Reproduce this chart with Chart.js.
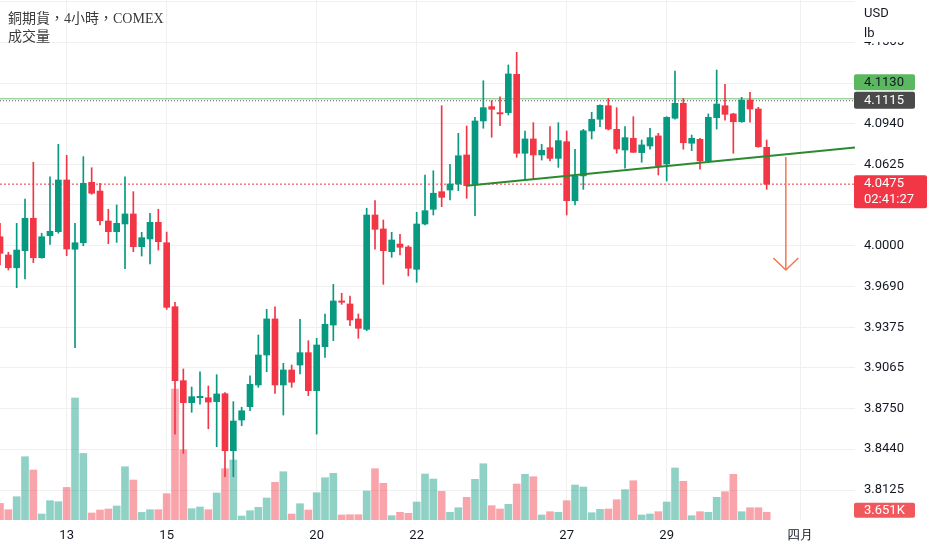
<!DOCTYPE html>
<html>
<head>
<meta charset="utf-8">
<script src="https://cdn.jsdelivr.net/npm/chart.js@4.4.1/dist/chart.umd.min.js"></script>
<style>
  html, body { margin: 0; padding: 0; background: #fff; }
  #wrap { position: relative; width: 932px; height: 550px; }
  #legend {
    position: absolute; left: 8px; top: 10px;
    font: 14px "Liberation Serif", "Noto Sans CJK TC", serif;
    line-height: 18px; color: #3a3a3a; pointer-events: none;
  }
</style>
</head>
<body>
<div id="wrap">
  <canvas id="chart"></canvas>
  <div id="legend"><div>銅期貨，4小時，COMEX</div><div>成交量</div></div>
</div>
<script>
// 4-hour candles (USD/lb)
const opens = [
  4.0071, 3.9931, 3.9833, 3.9964, 4.0213, 3.9910, 4.0079, 4.0110, 4.0507, 3.9975,
  4.0025, 4.0489, 4.0422, 4.0192, 4.0110, 4.0169, 4.0246, 3.9995, 4.0054, 4.0182,
  4.0025, 3.9534, 3.8966, 3.8797, 3.8835, 3.8835, 3.8805, 3.8866, 3.8428, 3.8664,
  3.8766, 3.8933, 3.9163, 3.9440, 3.8933, 3.9048, 3.9086, 3.9181, 3.8889, 3.9227,
  3.9393, 3.9578, 3.9555, 3.9440, 3.9360, 4.0238, 4.0131, 3.9956, 4.0015, 3.9992,
  3.9821, 4.0169, 4.0282, 4.0417, 4.0430, 4.0476, 4.0699, 4.0476, 4.0960, 4.1070,
  4.1024, 4.1024, 4.1318, 4.0712, 4.0822, 4.0699, 4.0755, 4.0673, 4.0801, 4.0348,
  4.0538, 4.0883, 4.0973, 4.1077, 4.0896, 4.0737, 4.0827, 4.0717, 4.0768, 4.0845,
  4.0630, 4.0981, 4.1096, 4.0789, 4.0819, 4.0653, 4.0985, 4.1077, 4.1014, 4.0954,
  4.1121, 4.1052, 4.0758
];
const highs = [
  4.0174, 3.9952, 4.0174, 4.0361, 4.0643, 4.0098, 4.0532, 4.0781, 4.0696, 4.0174,
  4.0686, 4.0601, 4.0481, 4.0282, 4.0315, 4.0532, 4.0417, 4.0105, 4.0251, 4.0282,
  4.0107, 3.9568, 3.9056, 3.8917, 3.9033, 3.8925, 3.9012, 3.8874, 3.8805, 3.8762,
  3.9004, 3.9317, 3.9514, 3.9532, 3.9099, 3.9086, 3.9437, 3.9273, 3.9291, 3.9478,
  3.9706, 3.9637, 3.9616, 3.9478, 4.0290, 4.0348, 4.0200, 4.0105, 4.0090, 4.0002,
  4.0259, 4.0545, 4.0578, 4.1077, 4.0627, 4.0865, 4.0921, 4.0988, 4.1269, 4.1116,
  4.1146, 4.1390, 4.1487, 4.0883, 4.0947, 4.0781, 4.0916, 4.0947, 4.0883, 4.0743,
  4.0896, 4.1027, 4.1083, 4.1134, 4.1062, 4.0916, 4.0993, 4.0814, 4.0904, 4.0865,
  4.0993, 4.1344, 4.1134, 4.0852, 4.0827, 4.1014, 4.1351, 4.1242, 4.1019, 4.1142,
  4.1180, 4.1065, 4.0814
];
const lows = [
  3.9854, 3.9816, 3.9680, 3.9747, 3.9872, 3.9906, 4.0013, 4.0098, 3.9926, 3.9219,
  4.0002, 4.0397, 4.0161, 4.0018, 4.0028, 3.9826, 3.9956, 3.9923, 3.9862, 3.9969,
  3.9514, 3.8556, 3.8408, 3.8723, 3.8785, 3.8597, 3.8459, 3.8229, 3.8229, 3.8620,
  3.8735, 3.8915, 3.9035, 3.8869, 3.8702, 3.8915, 3.9017, 3.8851, 3.8556, 3.9145,
  3.9273, 3.9552, 3.9388, 3.9291, 3.9350, 3.9975, 3.9706, 3.9913, 3.9931, 3.9770,
  3.9721, 4.0161, 4.0238, 4.0302, 4.0353, 4.0425, 4.0366, 4.0233, 4.0904, 4.0835,
  4.0924, 4.1006, 4.0681, 4.0512, 4.0512, 4.0660, 4.0653, 4.0604, 4.0238, 4.0315,
  4.0435, 4.0822, 4.0916, 4.0891, 4.0712, 4.0597, 4.0719, 4.0643, 4.0743, 4.0545,
  4.0499, 4.0973, 4.0743, 4.0732, 4.0589, 4.0647, 4.0898, 4.0967, 4.0712, 4.0950,
  4.0950, 4.0758, 4.0435
];
const closes = [
  3.9944, 3.9833, 3.9969, 4.0213, 3.9910, 4.0071, 4.0113, 4.0507, 3.9977, 4.0025,
  4.0481, 4.0405, 4.0194, 4.0110, 4.0174, 4.0246, 3.9995, 4.0064, 4.0182, 4.0033,
  3.9529, 3.8966, 3.8797, 3.8843, 3.8846, 3.8802, 3.8864, 3.8428, 3.8656, 3.8735,
  3.8938, 3.9163, 3.9440, 3.8933, 3.9048, 3.8954, 3.9181, 3.8889, 3.9240, 3.9399,
  3.9578, 3.9568, 3.9432, 3.9368, 4.0238, 4.0128, 3.9964, 4.0046, 3.9990, 3.9829,
  4.0169, 4.0271, 4.0405, 4.0374, 4.0476, 4.0693, 4.0463, 4.0960, 4.1062, 4.1050,
  4.1014, 4.1321, 4.0712, 4.0822, 4.0699, 4.0735, 4.0673, 4.0809, 4.0348, 4.0538,
  4.0885, 4.0973, 4.1080, 4.0898, 4.0745, 4.0832, 4.0719, 4.0776, 4.0832, 4.0617,
  4.0988, 4.1096, 4.0793, 4.0827, 4.0653, 4.0988, 4.1090, 4.1011, 4.0954, 4.1121,
  4.1052, 4.0762, 4.0475
];
const volumes = [
  7870, 4880, 11040, 30000, 23700, 2840, 9150, 8670, 15450, 57830,
  31570, 3320, 4740, 5210, 6640, 25260, 18960, 3600, 4880, 4880,
  12470, 62090, 33320, 5360, 6160, 4880, 12800, 24320, 28440, 1900,
  4410, 6020, 10430, 17870, 22890, 2840, 7730, 4740, 12940, 20050,
  22140, 2370, 2510, 2510, 13750, 24320, 17400, 2040, 3650, 3180,
  8530, 21800, 19430, 13600, 3650, 5830, 10760, 19290, 26690, 6780,
  5210, 7440, 17060, 21660, 20520, 2370, 3930, 3650, 9150, 16590,
  15640, 3460, 5070, 5210, 9620, 14360, 18630, 2370, 2840, 3930,
  8530, 24650, 18340, 2040, 3930, 3650, 10760, 13410, 21660, 3930,
  5830, 5830, 3651
];

// x axis: date labels and the candle index where each day starts
const dateLabels = ['13', '15', '20', '22', '27', '29', '四月'];
const dateTickIndex = [8, 20, 38, 50, 68, 80, 96];

// price axis tick labels
const priceTicks = [3.8125, 3.8440, 3.8750, 3.9065, 3.9375, 3.9690, 4.0000,
                    4.0315, 4.0625, 4.0940, 4.1250, 4.1565, 4.1880];

// price lines
const highLine = 4.1130;
const prevLine = 4.1115;
const lastLine = 4.0475;
const countdown = '02:41:27';
const unitLabels = ['USD', 'lb'];

// drawn neckline and arrow (candle index, price)
const trendX = [56, 102.6];
const trendY = [4.0463, 4.0756];
const arrowShaftY = [4.0683, 3.9816];
const arrowX = 94.3;
const arrowHeadX = [92.8, 94.3, 95.8];
const arrowHeadY = [3.9908, 3.9816, 3.9908];

const upColor = '#089981';
const downColor = '#f23645';
const upVol = 'rgba(8,153,129,0.45)';
const downVol = 'rgba(242,54,69,0.45)';

const xMax = 102.6;
const isUp = opens.map((o, i) => closes[i] >= o);
const candleColors = isUp.map(u => u ? upColor : downColor);

function hline(v) {
    return [{ x: 0, y: v }, { x: xMax, y: v }];
}

function box(ctx, x, y, w, h, r, color) {
    ctx.fillStyle = color;
    ctx.beginPath();
    ctx.moveTo(x + r, y);
    ctx.lineTo(x + w - r, y);
    ctx.quadraticCurveTo(x + w, y, x + w, y + r);
    ctx.lineTo(x + w, y + h - r);
    ctx.quadraticCurveTo(x + w, y + h, x + w - r, y + h);
    ctx.lineTo(x + r, y + h);
    ctx.quadraticCurveTo(x, y + h, x, y + h - r);
    ctx.lineTo(x, y + r);
    ctx.quadraticCurveTo(x, y, x + r, y);
    ctx.closePath();
    ctx.fill();
}

function noPadding(s) {
    s.paddingTop = 0;
    s.paddingBottom = 0;
    s.paddingLeft = 0;
    s.paddingRight = 0;
}

// labels on the price scale
const sideLabels = {
    id: 'sideLabels',
    afterDraw(chart) {
        const ctx = chart.ctx;
        const ys = chart.scales.y;
        const yv = chart.scales.yVol;
        const left = chart.chartArea.right;
        ctx.save();
        ctx.fillStyle = '#fff';
        ctx.fillRect(left + 1, 0, chart.width - left, 42);
        ctx.font = '13px Roboto';
        ctx.textBaseline = 'middle';
        ctx.textAlign = 'left';
        ctx.fillStyle = '#131722';
        ctx.fillText(unitLabels[0], left + 9, 14);
        ctx.fillText(unitLabels[1], left + 9, 34);

        const gy = ys.getPixelForValue(prevLine);
        box(ctx, left - 1, gy - 9, 61, 17, 2, '#4a4a4a');
        ctx.fillStyle = '#fff';
        ctx.fillText(prevLine.toFixed(4), left + 9, gy);

        const hy = gy - 9 - 17.5;
        box(ctx, left - 1, hy, 61, 16, 2, '#5cb860');
        ctx.fillStyle = '#131722';
        ctx.fillText(highLine.toFixed(4), left + 9, hy + 8);

        const ry = ys.getPixelForValue(lastLine);
        box(ctx, left - 1, ry - 9, 73, 33, 2, downColor);
        ctx.fillStyle = '#fff';
        ctx.fillText(lastLine.toFixed(4), left + 9, ry);
        ctx.fillText(countdown, left + 9, ry + 16);

        const vy = yv.getPixelForValue(volumes[volumes.length - 1]) - 2;
        box(ctx, left - 1, vy - 7.5, 61, 15, 2, '#f0585c');
        ctx.fillStyle = '#fff';
        ctx.fillText((volumes[volumes.length - 1] / 1000).toFixed(3) + 'K', left + 9, vy);
        ctx.restore();
    }
};

const ctx = document.getElementById('chart').getContext('2d');
new Chart(ctx, {
    type: 'bar',
    data: {
        datasets: [
            {
                type: 'line', order: 1,
                data: arrowHeadX.map((x, i) => ({ x: x, y: arrowHeadY[i] })),
                borderColor: '#f5764f', borderWidth: 1.5, pointRadius: 0
            },
            {
                type: 'line', order: 1,
                data: arrowShaftY.map(v => ({ x: arrowX, y: v })),
                borderColor: '#f5764f', borderWidth: 1.5, pointRadius: 0
            },
            {
                type: 'line', order: 2,
                data: trendX.map((x, i) => ({ x: x, y: trendY[i] })),
                borderColor: '#2b8a2f', borderWidth: 2, pointRadius: 0
            },
            {
                // candle bodies
                order: 3, grouped: false, barThickness: 6, minBarLength: 1,
                data: opens.map((o, i) => ({ x: i, y: [o, closes[i]] })),
                backgroundColor: candleColors
            },
            {
                // wicks
                order: 4, grouped: false, barThickness: 1,
                data: lows.map((l, i) => ({ x: i, y: [l, highs[i]] })),
                backgroundColor: candleColors
            },
            {
                // volume
                order: 5, grouped: false, barThickness: 7, yAxisID: 'yVol',
                data: volumes.map((v, i) => ({ x: i, y: v })),
                backgroundColor: isUp.map(u => u ? upVol : downVol)
            },
            {
                type: 'line', order: 6, data: hline(highLine),
                borderColor: 'rgba(76,175,80,0.8)', borderWidth: 1, pointRadius: 0
            },
            {
                type: 'line', order: 6, data: hline(prevLine),
                borderColor: '#555', borderWidth: 1, borderDash: [1, 2], pointRadius: 0
            },
            {
                type: 'line', order: 6, data: hline(lastLine),
                borderColor: downColor, borderWidth: 1, borderDash: [2, 2], pointRadius: 0
            }
        ]
    },
    options: {
        responsive: true,
        maintainAspectRatio: false,
        animation: false,
        layout: { padding: 0 },
        plugins: { legend: { display: false }, tooltip: { enabled: false } },
        scales: {
            x: {
                type: 'linear', min: 0, max: xMax, offset: false,
                afterFit: s => { s.height = 30; noPadding(s); },
                afterBuildTicks: s => { s.ticks = dateTickIndex.map(v => ({ value: v })); },
                grid: { color: '#f0f0f0', drawTicks: false, offset: false },
                border: { display: false },
                ticks: {
                    padding: 8, autoSkip: false, maxRotation: 0, color: '#131722',
                    font: { family: 'Roboto', size: 13 },
                    callback: (v, i) => dateLabels[i]
                }
            },
            y: {
                position: 'right', min: 3.78962, max: 4.18888,
                afterFit: s => { s.width = 77; noPadding(s); },
                afterBuildTicks: s => { s.ticks = priceTicks.map(v => ({ value: v })); },
                grid: { color: '#f0f0f0', drawTicks: false },
                border: { display: false },
                ticks: {
                    padding: 9, autoSkip: false, color: '#131722',
                    font: { family: 'Roboto', size: 13 },
                    callback: v => v.toFixed(4)
                }
            },
            yVol: { display: false, min: 0, max: 246500 }
        }
    },
    plugins: [sideLabels]
});
</script>
</body>
</html>
